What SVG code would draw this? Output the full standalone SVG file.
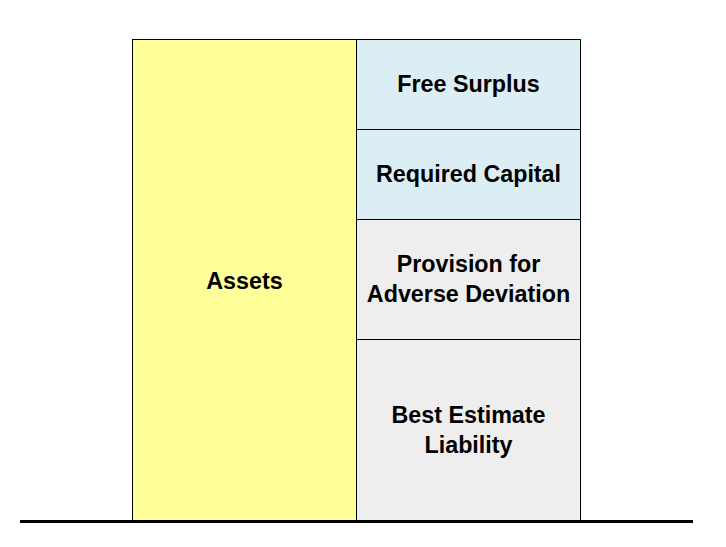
<svg xmlns="http://www.w3.org/2000/svg" width="726" height="547" viewBox="0 0 726 547">
<style>
.box{stroke:#000;stroke-width:1}
.t{font-family:"Liberation Sans",Arial,sans-serif;font-weight:bold;font-size:23.3px;text-anchor:middle;dominant-baseline:central;fill:#000}
</style>
<rect width="726" height="547" fill="#fff"/>
<g id="assets"><rect class="box" x="132.5" y="39.5" width="224" height="482" fill="#FFFF99"/><text class="t" x="244.5" y="281">Assets</text></g>
<g id="free-surplus"><rect class="box" x="356.5" y="39.5" width="224" height="90" fill="#DAEEF3"/><text class="t" x="468.5" y="84">Free Surplus</text></g>
<g id="required-capital"><rect class="box" x="356.5" y="129.5" width="224" height="90" fill="#DAEEF3"/><text class="t" x="468.5" y="174">Required Capital</text></g>
<g id="pad"><rect class="box" x="356.5" y="219.5" width="224" height="120" fill="#EEEEEE"/><text class="t" x="468.5" y="264">Provision for</text><text class="t" x="468.5" y="294">Adverse Deviation</text></g>
<g id="bel"><rect class="box" x="356.5" y="339.5" width="224" height="182" fill="#EEEEEE"/><text class="t" x="468.5" y="415">Best Estimate</text><text class="t" x="468.5" y="445">Liability</text></g>
<g id="connectors"><line x1="20" y1="521.5" x2="693" y2="521.5" stroke="#000" stroke-width="3"/></g>
</svg>
